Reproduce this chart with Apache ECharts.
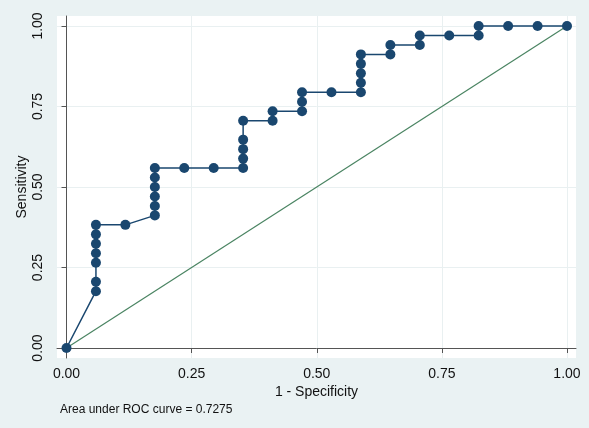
<!DOCTYPE html>
<html>
<head>
<meta charset="utf-8">
<script src="https://cdn.jsdelivr.net/npm/echarts@6/dist/echarts.min.js"></script>
<style>
  html, body { margin: 0; padding: 0; background: #eaf2f3; }
  #chart { width: 589px; height: 428px; }
</style>
</head>
<body>
<div id="chart"></div>
<script>
// 1 - specificity (false positive rate), one entry per point on the curve
const fpr = [
  0,
  0.0588, 0.0588, 0.0588, 0.0588, 0.0588, 0.0588, 0.0588,
  0.1176,
  0.1765, 0.1765, 0.1765, 0.1765, 0.1765, 0.1765,
  0.2353,
  0.2941,
  0.3529, 0.3529, 0.3529, 0.3529, 0.3529,
  0.4118, 0.4118,
  0.4706, 0.4706, 0.4706,
  0.5294,
  0.5882, 0.5882, 0.5882, 0.5882, 0.5882,
  0.6471, 0.6471,
  0.7059, 0.7059,
  0.7647,
  0.8235, 0.8235,
  0.8824, 0.9412, 1
]
// sensitivity
const sensitivity = [
  0,
  0.1765, 0.2059, 0.2647, 0.2941, 0.3235, 0.3529, 0.3824,
  0.3824,
  0.4118, 0.4412, 0.4706, 0.5, 0.5294, 0.5588,
  0.5588,
  0.5588,
  0.5588, 0.5882, 0.6176, 0.6471, 0.7059,
  0.7059, 0.7353,
  0.7353, 0.7647, 0.7941,
  0.7941,
  0.7941, 0.8235, 0.8529, 0.8824, 0.9118,
  0.9118, 0.9412,
  0.9412, 0.9706,
  0.9706,
  0.9706, 1,
  1, 1, 1
]
// chance diagonal
const refX = [0, 1]
const refY = [0, 1]
const tickValues = [0, 0.25, 0.5, 0.75, 1]
const aucText = 'Area under ROC curve = 0.7275'

const font = 'Liberation Sans, Arial, Helvetica, sans-serif'
const navy = '#1a476f'

const chart = echarts.init(document.getElementById('chart'))

const axisCommon = {
  type: 'value',
  axisLine: { show: true, lineStyle: { color: '#555', width: 1 } },
  axisTick: { show: true, length: 5, customValues: tickValues, lineStyle: { color: '#555' } },
  axisLabel: {
    customValues: tickValues,
    color: '#111',
    fontFamily: font,
    fontSize: 14,
    formatter: (v) => v.toFixed(2)
  },
  splitLine: { show: true, lineStyle: { color: '#e9f0f1', width: 1 } },
  nameLocation: 'middle',
  nameMoveOverlap: false,
  nameTextStyle: { color: '#111', fontFamily: font, fontSize: 14 }
}

chart.setOption({
  backgroundColor: '#eaf2f3',
  animation: false,
  grid: {
    left: 57, right: 13, top: 16, bottom: 70,
    show: true, backgroundColor: '#fff', borderWidth: 0
  },
  xAxis: Object.assign({}, axisCommon, {
    min: -0.019, max: 1.018,
    name: '1 - Specificity',
    nameGap: 27,
    axisLabel: Object.assign({}, axisCommon.axisLabel, { margin: 9 })
  }),
  yAxis: Object.assign({}, axisCommon, {
    min: -0.031, max: 1.031,
    name: 'Sensitivity',
    nameGap: 28,
    nameRotate: 90,
    axisLabel: Object.assign({}, axisCommon.axisLabel, { rotate: 90, margin: 12 })
  }),
  graphic: [{
    type: 'text',
    left: 60,
    top: 404,
    style: { text: aucText, fill: '#111', font: '12px ' + font }
  }],
  series: [
    {
      type: 'line',
      data: refX.map((x, i) => [x, refY[i]]),
      showSymbol: false,
      lineStyle: { color: '#4a8462', width: 1.2 },
      z: 1
    },
    {
      type: 'line',
      data: fpr.map((x, i) => [x, sensitivity[i]]),
      symbol: 'circle',
      symbolSize: 10,
      itemStyle: { color: navy },
      lineStyle: { color: navy, width: 1.5 },
      z: 2
    }
  ]
})
</script>
</body>
</html>
